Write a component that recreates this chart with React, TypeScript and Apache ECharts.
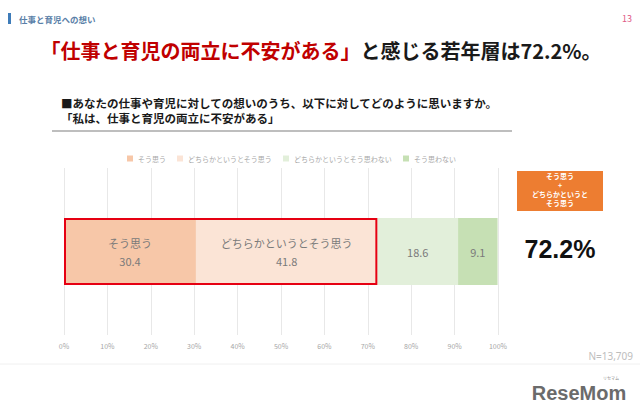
import React, { useEffect, useRef } from "react";
import * as echarts from "echarts";

const categories = [""];
const seriesNames = ["そう思う", "どちらかというとそう思う", "どちらかというとそう思わない", "そう思わない"];
const seriesValues = [30.4, 41.8, 18.6, 9.1];
const seriesColors = ["#F7C7A8", "#FBE4D6", "#E2EFDA", "#C6E0B4"];
const showNameInLabel = [true, true, false, false];
const boxValue = [72.2];
const xTicks = [0, 10, 20, 30, 40, 50, 60, 70, 80, 90, 100];

const JP = '"Noto Sans CJK JP", "Noto Sans", sans-serif';

export default function App() {
  const ref = useRef<HTMLDivElement>(null);
  useEffect(() => {
    const chart = echarts.init(ref.current!, null, { renderer: "svg" });
    const series: any[] = seriesNames.map((name, i) => ({
      name,
      type: "bar",
      stack: "total",
      barWidth: 67,
      data: [seriesValues[i]],
      itemStyle: { color: seriesColors[i] },
      label: {
        show: true,
        position: "inside",
        formatter: (p: any) => (showNameInLabel[i] ? `${p.seriesName}\n${p.value}` : `${p.value}`),
        color: "#7a7a7a",
        fontFamily: JP,
        fontSize: 11,
        lineHeight: 18,
      },
    }));
    series.push({
      name: "box",
      type: "bar",
      stack: "box",
      barWidth: 67,
      barGap: "-100%",
      data: boxValue,
      z: 5,
      itemStyle: { color: "rgba(0,0,0,0)", borderColor: "#E60012", borderWidth: 2 },
      label: { show: false },
      silent: true,
    });
    chart.setOption({
      animation: false,
      textStyle: { fontFamily: JP },
      grid: { left: 64, right: 142, top: 168, bottom: 80 },
      legend: {
        data: seriesNames,
        left: 122,
        top: 150,
        itemWidth: 6,
        itemHeight: 6,
        itemGap: 11,
        icon: "rect",
        textStyle: { color: "#a8a8a8", fontSize: 7, fontFamily: JP },
      },
      xAxis: {
        type: "value",
        min: 0,
        max: 100,
        interval: 10,
        axisLine: { show: false },
        axisTick: { show: false },
        axisLabel: {
          color: "#a6a6a6",
          fontSize: 7,
          margin: 7,
          formatter: (v: number) => (xTicks.includes(v) ? `${v}%` : ""),
        },
        splitLine: { show: true, lineStyle: { color: "#e8e8e8", width: 1 } },
      },
      yAxis: {
        type: "category",
        data: categories,
        axisLine: { show: false },
        axisTick: { show: false },
        axisLabel: { show: false },
      },
      series,
      graphic: [
        { type: "rect", shape: { x: 8, y: 13, width: 3, height: 11 }, style: { fill: "#3E7CB9" } },
        {
          type: "text",
          x: 19,
          y: 18.5,
          style: { text: "仕事と育児への想い", fontSize: 8.5, fill: "#5A7FA8", fontFamily: JP, verticalAlign: "middle", fontWeight: "bold" },
        },
        {
          type: "text",
          x: 632,
          y: 18.5,
          style: { text: "13", fontSize: 9, fill: "#E05A86", fontFamily: JP, align: "right", verticalAlign: "middle" },
        },
        {
          type: "text",
          x: 321,
          y: 50,
          style: {
            text: "{r|「仕事と育児の両立に不安がある」}{b|と感じる若年層は72.2%。}",
            align: "center",
            verticalAlign: "middle",
            rich: {
              r: { fill: "#C00000", fontSize: 20, fontWeight: "bold", fontFamily: JP },
              b: { fill: "#1a1a1a", fontSize: 20, fontWeight: "bold", fontFamily: JP },
            },
          },
        },
        {
          type: "text",
          x: 61,
          y: 103,
          style: {
            text: "■あなたの仕事や育児に対しての想いのうち、以下に対してどのように思いますか。",
            fontSize: 11.5,
            fontWeight: "bold",
            fill: "#1a1a1a",
            fontFamily: JP,
            verticalAlign: "middle",
          },
        },
        {
          type: "text",
          x: 61,
          y: 117.5,
          style: {
            text: "「私は、仕事と育児の両立に不安がある」",
            fontSize: 11.5,
            fontWeight: "bold",
            fill: "#1a1a1a",
            fontFamily: JP,
            verticalAlign: "middle",
          },
        },
        { type: "line", shape: { x1: 52, y1: 131, x2: 512, y2: 131 }, style: { stroke: "#a8a8a8", lineWidth: 1.5 } },
        { type: "rect", shape: { x: 517, y: 171, width: 86, height: 40 }, style: { fill: "#ED7D31" } },
        {
          type: "text",
          x: 560,
          y: 189.5,
          style: {
            text: "そう思う\n+\nどちらかというと\nそう思う",
            fontSize: 7,
            lineHeight: 8.7,
            fontWeight: "bold",
            fill: "#ffffff",
            fontFamily: JP,
            align: "center",
            verticalAlign: "middle",
          },
        },
        {
          type: "text",
          x: 560,
          y: 249,
          style: {
            text: "72.2%",
            fontSize: 25,
            fontWeight: "bold",
            fill: "#111111",
            fontFamily: '"Liberation Sans", Arial, sans-serif',
            align: "center",
            verticalAlign: "middle",
          },
        },
        {
          type: "text",
          x: 633,
          y: 356,
          style: {
            text: "N=13,709",
            fontSize: 10,
            fill: "#bdbdbd",
            fontFamily: '"Noto Sans", sans-serif',
            align: "right",
            verticalAlign: "middle",
          },
        },
        { type: "line", shape: { x1: 0, y1: 364, x2: 640, y2: 364 }, style: { stroke: "#f0f0f0", lineWidth: 1 } },
        {
          type: "text",
          x: 579,
          y: 393,
          style: {
            text: "ReseMom",
            fontSize: 20,
            fontWeight: "bold",
            fill: "#6b6b6b",
            fontFamily: '"Liberation Sans", Arial, sans-serif',
            align: "center",
            verticalAlign: "middle",
          },
        },
        {
          type: "text",
          x: 611,
          y: 378,
          style: { text: "リセマム", fontSize: 4, fill: "#8a8a8a", fontFamily: JP, align: "center", verticalAlign: "middle" },
        },
      ],
    });
    return () => chart.dispose();
  }, []);
  return <div ref={ref} style={{ position: "fixed", left: 0, top: 0, width: 640, height: 415, background: "#fff" }} />;
}
